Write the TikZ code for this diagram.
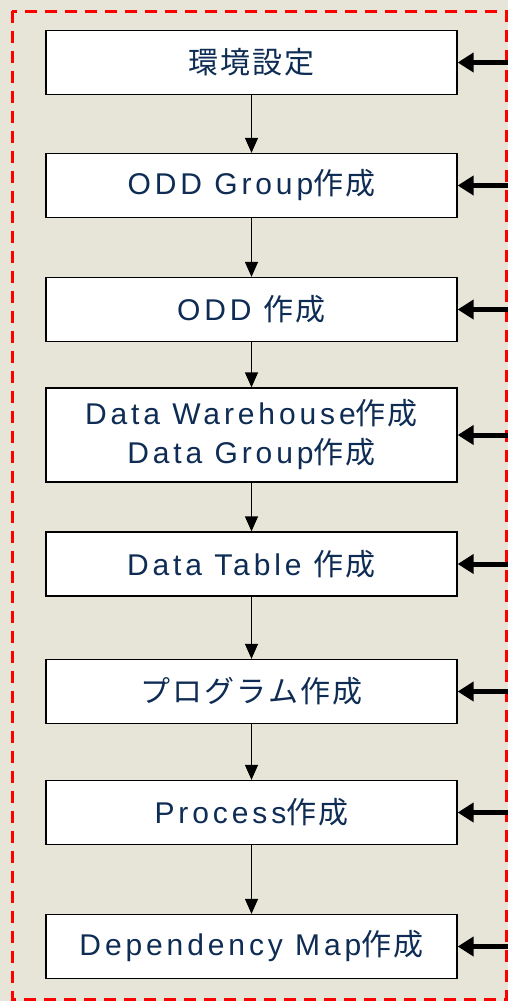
\documentclass[tikz,border=0pt]{standalone}
\usepackage{fontspec}
\usetikzlibrary{arrows.meta}
\setmainfont{Liberation Sans}[LetterSpace=13]
\newfontfamily\jpfont{Noto Sans CJK JP}[LetterSpace=7]
\newcommand{\jp}[1]{{\jpfont #1}}
\definecolor{textnavy}{RGB}{14,44,84}
\definecolor{paper}{RGB}{231,229,215}

\begin{document}
\begin{tikzpicture}[x=1pt,y=-1pt]
    \tikzstyle{stepbox}=[draw, fill=white, line width=1.3pt, minimum width=411pt, minimum height=64pt, inner sep=0pt, text=textnavy, font=\fontsize{30}{39}\selectfont, align=center]
    \tikzstyle{flow}=[-{Triangle[length=15pt,width=13pt]}, line width=1.3pt]
    \tikzstyle{feed}=[-{Triangle[length=16pt,width=19pt]}, line width=5pt]

    % background and dashed frame
    \fill[paper] (0,0) rectangle (508,1001);
    \useasboundingbox (0,0) rectangle (508,1001);
    \draw[red, line width=3pt, dash pattern=on 12pt off 8pt] (12,11) rectangle (506.5,999);

    \node[stepbox] (env) at (251.5,62.5) {\jp{環境設定}};
    \node[stepbox] (oddgrp) at (251.5,185.5) {ODD Group\jp{作成}};
    \node[stepbox] (odd) at (251.5,309.5) {ODD \jp{作成}};
    \node[stepbox, minimum height=94pt] (dwh) at (251.5,435) {Data Warehouse\jp{作成}\\Data Group\jp{作成}};
    \node[stepbox] (table) at (251.5,564) {Data Table \jp{作成}};
    \node[stepbox] (prog) at (251.5,691.5) {\jp{プログラム作成}};
    \node[stepbox] (proc) at (251.5,812.5) {Process\jp{作成}};
    \node[stepbox] (depmap) at (251.5,946.5) {Dependency Map\jp{作成}};

    \draw[flow] (env) -- (oddgrp);
    \draw[flow] (oddgrp) -- (odd);
    \draw[flow] (odd) -- (dwh);
    \draw[flow] (dwh) -- (table);
    \draw[flow] (table) -- (prog);
    \draw[flow] (prog) -- (proc);
    \draw[flow] (proc) -- (depmap);

    % inputs from the right
    \foreach \n in {env,oddgrp,odd,dwh,table,prog,proc,depmap} {
        \coordinate (\n-in) at (\n.east -| 510,0);
        \draw[feed] (\n-in) -- (\n.east);
    }
\end{tikzpicture}
\end{document}
